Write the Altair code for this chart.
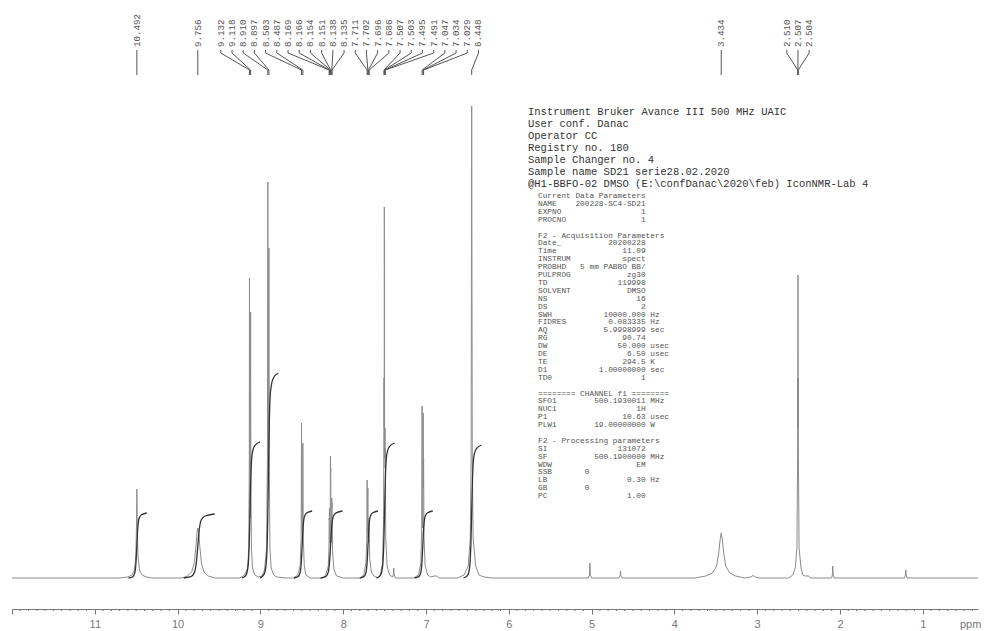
import altair as alt
import pandas as pd
import numpy as np

# ---------------- data ----------------
# 1H spectrum trace (chemical shift in ppm, relative intensity)
SPEC_PPM = [12.00, 10.70, 10.60, 10.55, 10.52, 10.505, 10.497, 10.492, 10.487, 10.478, 10.46, 10.43, 10.38, 10.30,
            9.95, 9.88, 9.83, 9.80, 9.78, 9.765, 9.756, 9.745, 9.73, 9.71, 9.68, 9.63, 9.55,
            9.25, 9.19, 9.155, 9.14, 9.134, 9.132, 9.128, 9.125, 9.121, 9.118, 9.115, 9.108, 9.095, 9.07, 9.02,
            8.98, 8.95, 8.925, 8.915, 8.910, 8.906, 8.902, 8.897, 8.893, 8.885, 8.87, 8.84, 8.80, 8.70,
            8.60, 8.55, 8.52, 8.508, 8.503, 8.498, 8.493, 8.487, 8.482, 8.47, 8.45, 8.40,
            8.25, 8.21, 8.18, 8.172, 8.169, 8.167, 8.166, 8.160, 8.157, 8.154, 8.152, 8.151, 8.145, 8.141, 8.138,
            8.136, 8.135, 8.128, 8.11, 8.08, 8.00,
            7.80, 7.75, 7.725, 7.714, 7.711, 7.707, 7.702, 7.699, 7.696, 7.691, 7.686, 7.68, 7.66, 7.63, 7.58,
            7.55, 7.525, 7.512, 7.507, 7.505, 7.503, 7.499, 7.495, 7.493, 7.491, 7.486, 7.47, 7.44, 7.40,
            7.392, 7.389, 7.386, 7.37,
            7.15, 7.09, 7.062, 7.052, 7.047, 7.041, 7.037, 7.034, 7.031, 7.029, 7.024, 7.01, 6.98, 6.94, 6.90, 6.87, 6.84,
            6.62, 6.54, 6.49, 6.465, 6.455, 6.448, 6.441, 6.431, 6.40, 6.36, 6.30, 6.20,
            5.04, 5.025, 5.02, 5.015, 5.00, 4.67, 4.655, 4.65, 4.645, 4.63,
            3.75, 3.62, 3.54, 3.49, 3.465, 3.445, 3.434, 3.423, 3.405, 3.38, 3.33, 3.26, 3.15, 3.08, 3.05, 3.02, 2.98,
            2.62, 2.57, 2.54, 2.52, 2.512, 2.510, 2.509, 2.507, 2.505, 2.504, 2.502, 2.494, 2.47, 2.45, 2.42, 2.38, 2.35,
            2.10, 2.092, 2.087, 2.082, 2.07, 1.22, 1.21, 1.205, 1.20, 1.19, 0.333]
SPEC_INT = [0, 0, 1, 3, 8, 22, 50, 89, 50, 22, 8, 3, 1, 0,
            0, 2, 6, 14, 30, 46, 50, 46, 30, 14, 6, 2, 0,
            0, 3, 10, 30, 120, 300, 120, 60, 120, 266, 100, 30, 10, 3, 1,
            2, 8, 30, 120, 396, 140, 100, 330, 120, 30, 10, 3, 1, 0,
            0, 3, 12, 40, 155, 50, 45, 135, 40, 12, 3, 0,
            0, 3, 12, 30, 60, 58, 70, 35, 50, 122, 105, 110, 35, 45, 80,
            70, 75, 25, 8, 2, 0,
            0, 3, 15, 40, 98, 45, 90, 40, 60, 35, 55, 20, 6, 2, 0,
            3, 15, 60, 200, 150, 371, 120, 150, 110, 130, 40, 12, 3, 1,
            4, 10, 4, 0,
            0, 3, 15, 50, 172, 50, 60, 165, 90, 120, 40, 12, 3, 1, 2, 2, 0,
            0, 3, 12, 40, 120, 472, 120, 40, 12, 3, 1, 0,
            0, 3, 15, 3, 0, 0, 2, 7, 2, 0,
            0, 2, 5, 12, 25, 40, 45, 40, 25, 12, 5, 2, 0, 1, 2.5, 1, 0,
            0, 3, 10, 30, 120, 200, 150, 303, 150, 200, 120, 30, 10, 3, 2, 2, 0,
            0, 3, 12, 3, 0, 0, 3, 8, 3, 0, 0]

# integral curves: centre (ppm), final height, width factor
INT_CENTER = [10.492, 9.756, 9.125, 8.903, 8.495, 8.152, 7.700, 7.500, 7.038, 6.448]
INT_HEIGHT = [65, 64, 136, 205, 67, 67, 67, 135, 67, 133]
INT_WIDTH = [1.0, 1.7, 1.0, 1.0, 1.0, 1.2, 1.0, 1.0, 1.0, 1.0]
# common S-shape of an integral trace (ppm offset, fraction)
INT_SHAPE_DPPM = [0.10, 0.05, 0.025, 0.01, 0.0, -0.01, -0.02, -0.035, -0.06, -0.12]
INT_SHAPE_FRAC = [0.0, 0.02, 0.08, 0.25, 0.5, 0.75, 0.88, 0.94, 0.975, 1.0]

# peak labels
LABELS_SINGLE_LEFT = ["10.492", "9.756"]
LABELS_AROMATIC = ["9.132", "9.118", "8.910", "8.897", "8.503", "8.487", "8.169", "8.166", "8.154",
                   "8.151", "8.138", "8.135", "7.711", "7.702", "7.696", "7.686", "7.507", "7.503",
                   "7.495", "7.491", "7.047", "7.034", "7.029", "6.448"]
LABELS_SINGLE_RIGHT = ["3.434"]
LABELS_DMSO = ["2.510", "2.507", "2.504"]

MAJOR_TICKS = [1, 2, 3, 4, 5, 6, 7, 8, 9, 10, 11, 12]

HEADER_LINES = [
    "Instrument Bruker Avance III 500 MHz UAIC",
    "User conf. Danac",
    "Operator CC",
    "Registry no. 180",
    "Sample Changer no. 4",
    "Sample name SD21 serie28.02.2020",
    "@H1-BBFO-02 DMSO (E:\\confDanac\\2020\\feb) IconNMR-Lab 4",
]

# parameter blocks (separated by an empty line in the print-out)
PARAM_BLOCKS = [
    [("Current Data Parameters", None, None),
     ("NAME", "200228-SC4-SD21", ""),
     ("EXPNO", "1", ""),
     ("PROCNO", "1", "")],
    [("F2 - Acquisition Parameters", None, None),
     ("Date_", "20200228", ""),
     ("Time", "11.09", ""),
     ("INSTRUM", "spect", ""),
     ("PROBHD", "5 mm PABBO BB/", ""),
     ("PULPROG", "zg30", ""),
     ("TD", "119998", ""),
     ("SOLVENT", "DMSO", ""),
     ("NS", "16", ""),
     ("DS", "2", ""),
     ("SWH", "10000.000", "Hz"),
     ("FIDRES", "0.083335", "Hz"),
     ("AQ", "5.9998999", "sec"),
     ("RG", "90.74", ""),
     ("DW", "50.000", "usec"),
     ("DE", "6.50", "usec"),
     ("TE", "294.5", "K"),
     ("D1", "1.00000000", "sec"),
     ("TD0", "1", "")],
    [("======== CHANNEL f1 ========", None, None),
     ("SFO1", "500.1930011", "MHz"),
     ("NUC1", "1H", ""),
     ("P1", "10.63", "usec"),
     ("PLW1", "19.00000000", "W")],
    [("F2 - Processing parameters", None, None),
     ("SI", "131072", ""),
     ("SF", "500.1900000", "MHz"),
     ("WDW", "EM", ""),
     ("SSB", "0", "left"),
     ("LB", "0.30", "Hz"),
     ("GB", "0", "left"),
     ("PC", "1.00", "")],
]

# ---------------- tables ----------------
spec = pd.DataFrame({"ppm": SPEC_PPM, "inten": SPEC_INT})
spec["idx"] = range(len(spec))

rows = []
k = 0
for g, (c, h, w) in enumerate(zip(INT_CENTER, INT_HEIGHT, INT_WIDTH)):
    for d, f in zip(INT_SHAPE_DPPM, INT_SHAPE_FRAC):
        rows.append({"g": g, "ppm": c + d * w, "inten": h * f, "idx": k})
        k += 1
integ = pd.DataFrame(rows)

STEP = 0.1353  # label spacing in ppm
lab_rows = []
for s in LABELS_SINGLE_LEFT + LABELS_SINGLE_RIGHT:
    lab_rows.append({"label": s, "peak": float(s), "slot": float(s)})
for i, s in enumerate(LABELS_AROMATIC):
    lab_rows.append({"label": s, "peak": float(s), "slot": 9.478 - i * STEP})
for i, s in enumerate(LABELS_DMSO):
    lab_rows.append({"label": s, "peak": float(s), "slot": 2.507 + (1 - i) * STEP})
labs = pd.DataFrame(lab_rows)

minor = pd.DataFrame({"ppm": [round(v, 1) for v in np.arange(0.4, 12.0, 0.1)
                              if abs(round(v, 1) - round(v)) > 1e-6]})

NB = "\u00a0"


def fmt(name, val, unit):
    if val is None:
        s = name
    elif unit == "left":
        s = f"{name:<10}{val}"
    else:
        s = f"{name:<8}{val:>15}"
        if unit:
            s += " " + unit
    return s.replace(" ", NB)


header_lines = [s.replace(" ", NB) for s in HEADER_LINES]

# ---------------- chart ----------------
X0, X1 = 12.0, 0.333
xscale = alt.Scale(domain=[X1, X0], reverse=True, nice=False, zero=False)
yscale = alt.Scale(domain=[-31, 570], nice=False, zero=False)
GRAY = "#777777"

XAXIS = alt.Axis(values=MAJOR_TICKS, title=None, grid=False, tickSize=5,
                 labelExpr="datum.value >= 12 ? '' : datum.label",
                 format="d", labelFontSize=11, labelColor=GRAY, labelFont="Liberation Sans",
                 labelPadding=4, domainColor=GRAY, tickColor=GRAY, labelFlush=False)

spectrum = alt.Chart(spec).mark_line(color="#8c8c8c", strokeWidth=1).encode(
    x=alt.X("ppm:Q", scale=xscale, axis=XAXIS),
    y=alt.Y("inten:Q", scale=yscale, axis=None),
    order=alt.Order("idx:Q"),
)

integrals = alt.Chart(integ).mark_line(color="#333333", strokeWidth=1.3,
                                       interpolate="monotone").encode(
    x=alt.X("ppm:Q", scale=xscale, axis=XAXIS),
    y=alt.Y("inten:Q", scale=yscale, axis=None),
    detail="g:N",
    order=alt.Order("idx:Q"),
)

minor_ticks = alt.Chart(minor).mark_rule(color=GRAY, strokeWidth=1).encode(
    x=alt.X("ppm:Q", scale=xscale, axis=XAXIS),
    y=alt.value(601), y2=alt.value(603),
)

seg1 = alt.Chart(labs).mark_rule(color="#555555", strokeWidth=1).encode(
    x=alt.X("slot:Q", scale=xscale, axis=XAXIS), y=alt.value(42), y2=alt.value(45))
seg2 = alt.Chart(labs).mark_rule(color="#555555", strokeWidth=1).encode(
    x=alt.X("slot:Q", scale=xscale, axis=XAXIS), x2="peak:Q", y=alt.value(45), y2=alt.value(62))
seg3 = alt.Chart(labs).mark_rule(color="#555555", strokeWidth=1).encode(
    x=alt.X("peak:Q", scale=xscale, axis=XAXIS), y=alt.value(62), y2=alt.value(67))

label_text = alt.Chart(labs).mark_text(angle=270, align="left", baseline="middle",
                                       font="Liberation Mono", fontSize=9.2, color="#555555").encode(
    x=alt.X("slot:Q", scale=xscale, axis=XAXIS), y=alt.value(39), text="label:N")

one = pd.DataFrame({"a": [0]})
header = alt.Chart(one).mark_text(text=header_lines, align="left", baseline="top", lineHeight=12,
                                  font="Liberation Mono", fontSize=10.5, color="#333333").encode(
    x=alt.value(516), y=alt.value(99))

LH = 7.9
param_layers = []
line_no = 0
for block in PARAM_BLOCKS:
    lines = [fmt(*r) for r in block]
    param_layers.append(
        alt.Chart(one).mark_text(text=lines, align="left", baseline="top", lineHeight=LH,
                                 font="Liberation Mono", fontSize=7.8, color="#555555").encode(
            x=alt.value(526), y=alt.value(184 + line_no * LH)))
    line_no += len(block) + 1

ppm_title = alt.Chart(one).mark_text(text="ppm", align="left", baseline="middle",
                                     font="Liberation Sans", fontSize=11, color=GRAY).encode(
    x=alt.value(948), y=alt.value(617))

chart = alt.layer(spectrum, integrals, minor_ticks, seg1, seg2, seg3, label_text,
                  header, *param_layers, ppm_title).properties(
    width=966, height=601,
    autosize=alt.AutoSizeParams(type="none"),
    padding={"left": 4, "top": 0, "right": 4, "bottom": 22},
    background="white",
).configure_view(stroke=None)

chart.save("out.html", embed_options={"renderer": "svg", "actions": False})
